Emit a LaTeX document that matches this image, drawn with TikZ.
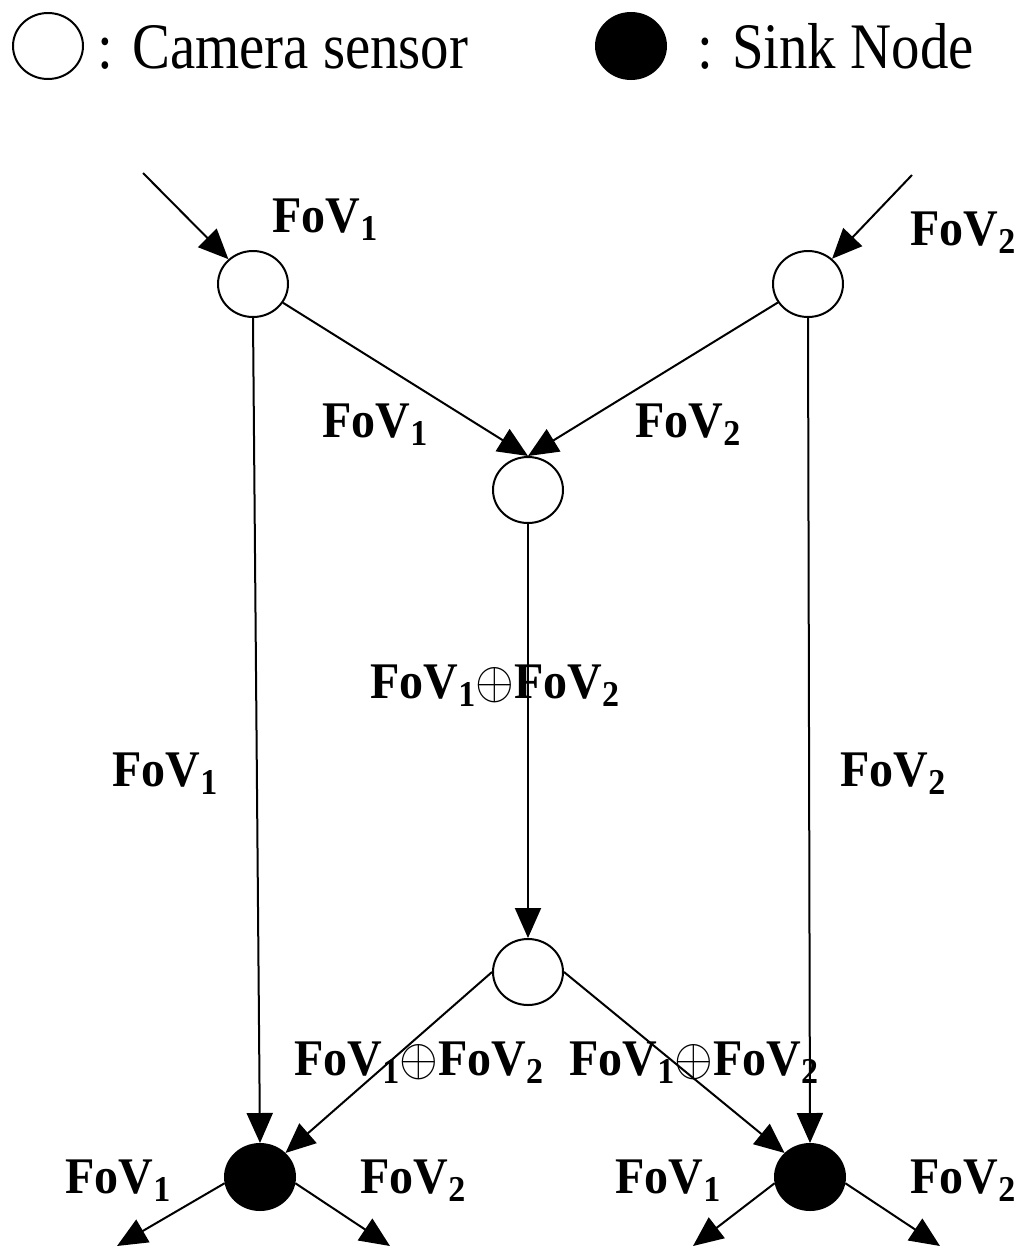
\documentclass[tikz,border=0pt]{standalone}
\usepackage{fontspec}
\usepackage{graphicx}
\setmainfont{Liberation Serif}
\usetikzlibrary{arrows.meta,shapes.geometric}
\newcommand{\fv}[1]{FoV\raisebox{-0.16em}{\fontsize{17}{17}\selectfont #1}}
\newcommand{\opl}{$\oplus$}
\newcommand{\tallbf}[1]{\scalebox{1}[1.07]{#1}}
\newcommand{\tallrm}[1]{\scalebox{0.98}[1.12]{#1}}
\begin{document}
\begin{tikzpicture}[x=0.5pt,y=-0.5pt,
  cam/.style={ellipse,draw,line width=1pt,minimum width=35pt,minimum height=33pt,inner sep=0pt},
  sink/.style={cam,fill=black},
  lbl/.style={font=\fontsize{24}{24}\bfseries\selectfont,inner sep=0pt,anchor=base west},
  leg/.style={font=\fontsize{29}{29}\selectfont,inner sep=0pt,anchor=base west},
  conn/.style={line width=1pt,-{Triangle[length=15pt,width=13pt]}},
  plain/.style={line width=1pt}]
\useasboundingbox (0,0) rectangle (1024,1259);
% legend
\node[cam] (legcam) at (48,46) {};
\node[leg] (legcamt) at (97,68) {\tallrm{: Camera sensor}};
\node[sink] (legsink) at (631,46) {};
\node[leg] (legsinkt) at (697,68) {\tallrm{: Sink Node}};
% nodes
\node[cam] (A) at (253,284) {};
\node[cam] (B) at (808,284) {};
\node[cam] (C) at (528,490) {};
\node[cam] (D) at (528,972) {};
\node[sink] (S1) at (260,1177) {};
\node[sink] (S2) at (810,1177) {};
% free ends
\coordinate (i1) at (143,173);
\coordinate (i2) at (912,175);
\coordinate (o1) at (117,1246);
\coordinate (o2) at (390,1246);
\coordinate (o3) at (693,1246);
\coordinate (o4) at (940,1246);
% connectors
\draw[conn] (i1) -- (A);
\draw[conn] (i2) -- (B);
\draw[conn] (A) -- (C.north);
\draw[conn] (B) -- (C.north);
\draw[conn] (C) -- (D);
\draw[conn] (A.south) -- (S1.north);
\draw[conn] (B.south) -- (S2.north);
\draw[conn] (D.west) -- (S1.north east);
\draw[conn] (D.east) -- (S2.north west);
\draw[conn] (S1.190) -- (o1);
\draw[conn] (S1.-10) -- (o2);
\draw[conn] (S2.190) -- (o3);
\draw[conn] (S2.-10) -- (o4);
% labels
\node[lbl] (t1) at (272,232) {\tallbf{\fv{1}}};
\node[lbl] (t2) at (910,245) {\tallbf{\fv{2}}};
\node[lbl] (m1) at (322,437) {\tallbf{\fv{1}}};
\node[lbl] (m2) at (635,437) {\tallbf{\fv{2}}};
\node[lbl] (mc) at (370,698) {\tallbf{\fv{1}\opl\fv{2}}};
\node[lbl] (v1) at (112,786) {\tallbf{\fv{1}}};
\node[lbl] (v2) at (840,786) {\tallbf{\fv{2}}};
\node[lbl] (b1) at (294,1075) {\tallbf{\fv{1}\opl\fv{2}}};
\node[lbl] (b2) at (569,1075) {\tallbf{\fv{1}\opl\fv{2}}};
\node[lbl] (s11) at (65,1193) {\tallbf{\fv{1}}};
\node[lbl] (s12) at (360,1193) {\tallbf{\fv{2}}};
\node[lbl] (s21) at (615,1193) {\tallbf{\fv{1}}};
\node[lbl] (s22) at (910,1193) {\tallbf{\fv{2}}};
\end{tikzpicture}
\end{document}
